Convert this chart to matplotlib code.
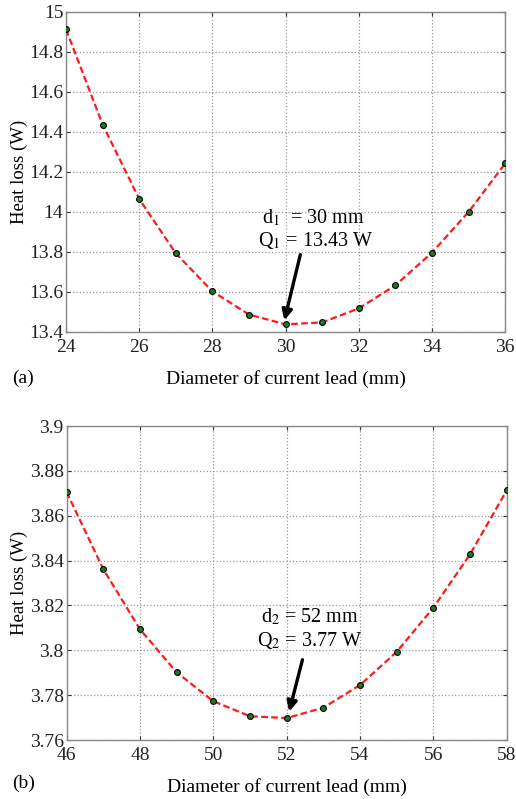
import matplotlib
matplotlib.use('Agg')
import matplotlib.pyplot as plt

# --- data (a) ---
diam_a = [24, 25, 26, 27, 28, 29, 30, 31, 32, 33, 34, 35, 36]
loss_a = [14.913, 14.437, 14.065, 13.793, 13.603, 13.487, 13.438, 13.448, 13.518, 13.633, 13.797, 14.0, 14.243]
xticks_a = [24, 26, 28, 30, 32, 34, 36]
yticks_a = [13.4, 13.6, 13.8, 14, 14.2, 14.4, 14.6, 14.8, 15]

# --- data (b) ---
diam_b = [46, 47, 48, 49, 50, 51, 52, 53, 54, 55, 56, 57, 58]
loss_b = [3.8706, 3.8362, 3.8094, 3.7902, 3.7773, 3.7706, 3.7698, 3.7744, 3.7845, 3.7993, 3.819, 3.8428, 3.8713]
xticks_b = [46, 48, 50, 52, 54, 56, 58]
yticks_b = [3.76, 3.78, 3.8, 3.82, 3.84, 3.86, 3.88, 3.9]

plt.rcParams['font.family'] = ['Liberation Serif', 'DejaVu Serif']
plt.rcParams['mathtext.fontset'] = 'stix'

fig = plt.figure(figsize=(5.16, 7.99), dpi=100)
ax1 = fig.add_axes([0.128, 0.5845, 0.851, 0.4005])
ax2 = fig.add_axes([0.129, 0.0738, 0.853, 0.393])


def style(ax, xticks, yticks, ylabels):
    ax.set_xticks(xticks)
    ax.set_yticks(yticks)
    ax.set_yticklabels(ylabels)
    ax.set_xlim(xticks[0], xticks[-1])
    ax.set_ylim(yticks[0], yticks[-1])
    ax.grid(True, linestyle=':', color='#999999', linewidth=0.9)
    ax.tick_params(direction='in', length=3, labelsize=14, colors='#333333',
                   top=True, right=True)
    ax.tick_params(axis='x', pad=5)
    ax.tick_params(axis='y', pad=2)
    for lab in ax.get_xticklabels() + ax.get_yticklabels():
        lab.set_color('#222222')
    for s in ax.spines.values():
        s.set_color('#888888')
        s.set_linewidth(1.0)
    ax.set_ylabel('Heat loss (W)', fontsize=13.5)
    ax.yaxis.set_label_coords(-0.087, 0.5)
    ax.set_xlabel('Diameter of current lead (mm)', fontsize=14, labelpad=10)


def draw(ax, x, y):
    ax.plot(x, y, '--', color='#ff1a1a', linewidth=1.6, dashes=(3, 1.5), zorder=3)
    ax.plot(x, y, 'o', markersize=4.2, markerfacecolor='#1f7a1f',
            markeredgecolor='black', markeredgewidth=0.8, zorder=4)


draw(ax1, diam_a, loss_a)
style(ax1, xticks_a, yticks_a, ['13.4', '13.6', '13.8', '14', '14.2', '14.4', '14.6', '14.8', '15'])
ax1.text(29.35, 13.97, r'd$_1$  = 30 mm', fontsize=14.5, va='center', ha='left')
ax1.text(29.25, 13.855, r'Q$_1$ = 13.43 W', fontsize=14.5, va='center', ha='left')
ax1.annotate('', xy=(29.95, 13.445), xytext=(30.42, 13.8),
             arrowprops=dict(arrowstyle='-|>', color='black', lw=2.4,
                             mutation_scale=15))
fig.text(0.023, 0.527, '(a)', fontsize=14, va='center')

draw(ax2, diam_b, loss_b)
style(ax2, xticks_b, yticks_b, ['3.76', '3.78', '3.8', '3.82', '3.84', '3.86', '3.88', '3.9'])
ax2.text(51.3, 3.8148, r'd$_2$ = 52 mm', fontsize=14.5, va='center', ha='left')
ax2.text(51.2, 3.8046, r'Q$_2$ = 3.77 W', fontsize=14.5, va='center', ha='left')
ax2.annotate('', xy=(52.05, 3.7715), xytext=(52.45, 3.797),
             arrowprops=dict(arrowstyle='-|>', color='black', lw=2.4,
                             mutation_scale=15))
fig.text(0.023, 0.02, '(b)', fontsize=14, va='center')

fig.savefig('out.png', dpi=100)
